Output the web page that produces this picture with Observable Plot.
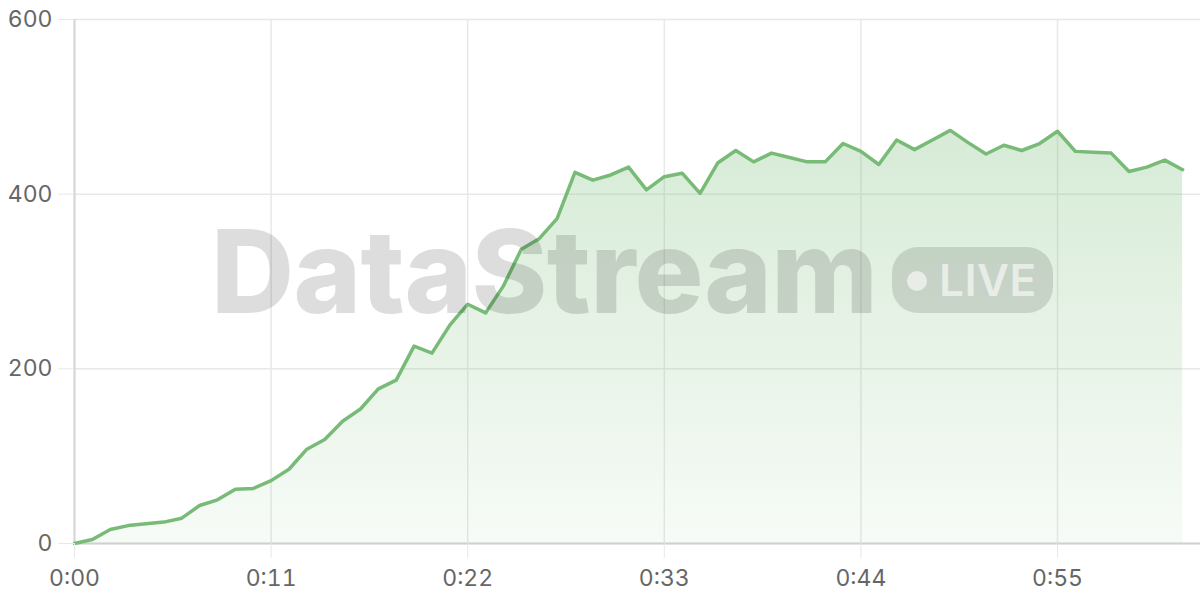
<!DOCTYPE html>
<html>
<head>
<meta charset="utf-8">
<script src="https://cdn.jsdelivr.net/npm/d3@7"></script>
<script src="https://cdn.jsdelivr.net/npm/@observablehq/plot@0.6"></script>
<style>
  html, body { margin: 0; padding: 0; background: #fff; }
  #wrap { position: relative; width: 1200px; height: 600px; }
  #wm { position: absolute; left: 0; top: 0; pointer-events: none; }
</style>
</head>
<body>
<div id="wrap"></div>
<script>
// seconds since start
const seconds = [0,1,2,3,4,5,6,7,8,9,10,11,12,13,14,15,16,17,18,19,20,21,22,23,24,25,26,27,28,29,30,
  31,32,33,34,35,36,37,38,39,40,41,42,43,44,45,46,47,48,49,50,51,52,53,54,55,56,57,58,59,60,61,62];
// series values
const values = [0,4.5,16,20.5,22.5,24.5,29,43.5,50,62,63,72,85,108,119,140,154,177,187,226,218,
  250,274,264,295,337,349,372,425,416,422,431,405,420,424,401,436,450,437,447,442,437,437,458,449,
  434,462,451,462,473,459,446,456,450,458,472,449,448,447,426,431,439,428];
// tick values
const xTicks = [0, 11, 22, 33, 44, 55];
const yTicks = [0, 200, 400, 600];
const watermarkText = "DataStream";
const badgeText = "LIVE";

const data = seconds.map((t, i) => ({t, v: values[i]}));
const fmt = d => `${Math.floor(d / 60)}:${String(d % 60).padStart(2, "0")}`;
const green = "#77bb77";

const plot = Plot.plot({
  width: 1200,
  height: 600,
  marginLeft: 74,
  marginRight: 0,
  marginTop: 19,
  marginBottom: 57,
  style: {background: "transparent", fontFamily: "Inter, 'Liberation Sans', sans-serif", fontSize: "23px", color: "#666"},
  x: {domain: [0, 63]},
  y: {domain: [0, 600]},
  marks: [
    Plot.gridY(yTicks, {stroke: "#e8e8e8", strokeOpacity: 1, strokeWidth: 1.5}),
    Plot.gridX(xTicks, {stroke: "#e8e8e8", strokeOpacity: 1, strokeWidth: 1.5}),
    Plot.areaY(data, {x: "t", y: "v", fill: "url(#areaGrad)"}),
    Plot.ruleX([0], {stroke: "#d6d6d6", strokeWidth: 2}),
    Plot.ruleY([0], {stroke: "#d0d0d0", strokeWidth: 2}),
    Plot.lineY(data, {x: "t", y: "v", stroke: green, strokeWidth: 3.5}),
    Plot.axisY(yTicks, {tickSize: 16, tickPadding: 6, stroke: "#e8e8e8", fill: "#666", fontSize: 23, label: null}),
    Plot.axisX(xTicks, {tickSize: 15, tickPadding: 11, stroke: "#e8e8e8", fill: "#666", fontSize: 23, tickFormat: fmt, label: null})
  ]
});

// gradient definition for the area fill
const defs = d3.create("svg:defs");
const grad = defs.append("linearGradient").attr("id", "areaGrad").attr("x1", 0).attr("y1", 0).attr("x2", 0).attr("y2", 1);
grad.append("stop").attr("offset", "0%").attr("stop-color", green).attr("stop-opacity", 0.3);
grad.append("stop").attr("offset", "100%").attr("stop-color", green).attr("stop-opacity", 0.06);
plot.insertBefore(defs.node(), plot.firstChild);

const wrap = document.getElementById("wrap");
wrap.appendChild(plot);

// watermark overlay
const wm = d3.select(wrap).append("svg").attr("id", "wm").attr("width", 1200).attr("height", 600);
wm.append("text")
  .attr("x", 211).attr("y", 313)
  .attr("font-family", "Inter, sans-serif").attr("font-weight", 800).attr("font-size", 115)
  .attr("letter-spacing", "-0.6")
  .attr("fill", "rgba(0,0,0,0.135)")
  .text(watermarkText);
const badge = wm.append("g");
badge.append("rect").attr("x", 892).attr("y", 247).attr("width", 161).attr("height", 66).attr("rx", 26)
  .attr("fill", "rgba(0,0,0,0.12)");
badge.append("circle").attr("cx", 917).attr("cy", 281).attr("r", 10).attr("fill", "rgba(255,255,255,0.6)");
badge.append("text").attr("x", 939).attr("y", 296)
  .attr("font-family", "Inter, sans-serif").attr("font-weight", 600).attr("font-size", 44)
  .attr("letter-spacing", "0.5")
  .attr("fill", "rgba(255,255,255,0.6)")
  .text(badgeText);
</script>
</body>
</html>
